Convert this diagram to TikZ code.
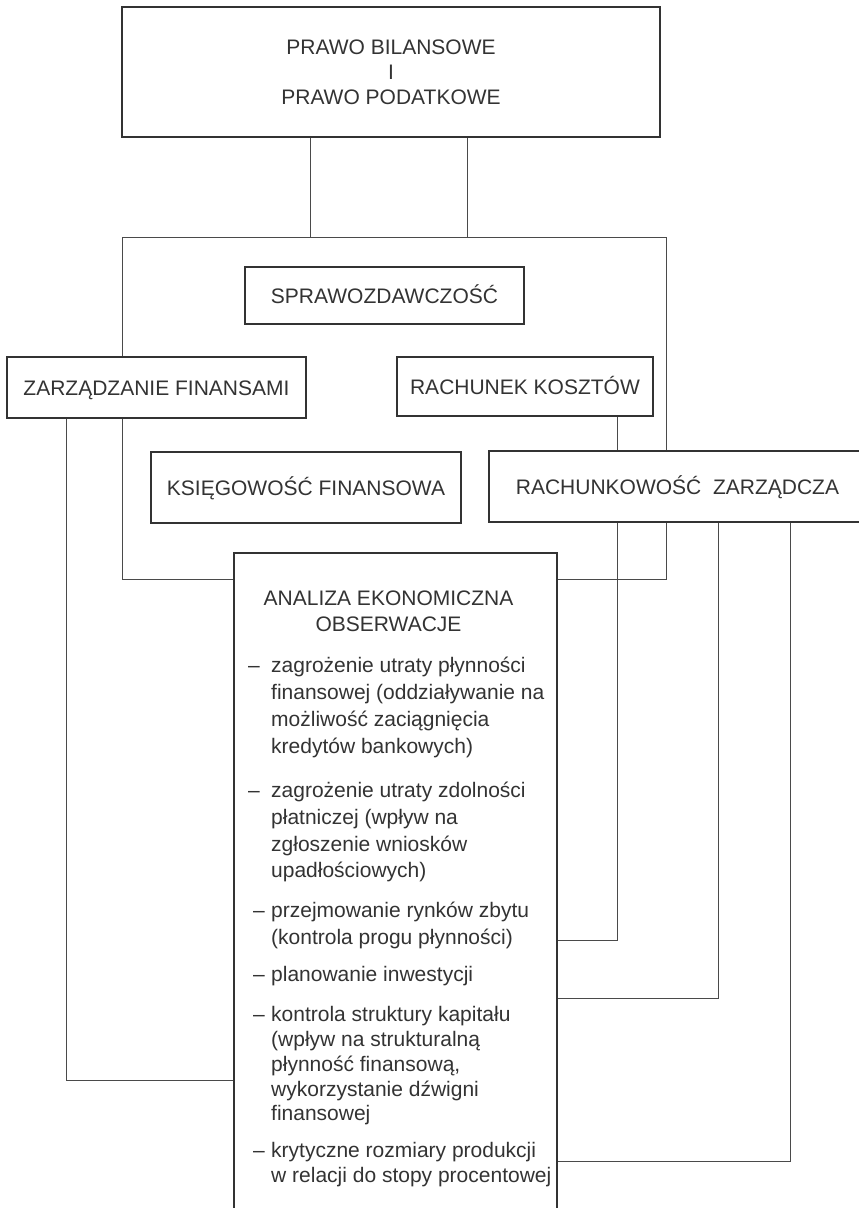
\documentclass[tikz,border=0pt]{standalone}
\usepackage{fontspec}
\setmainfont{Liberation Sans}
\definecolor{ink}{HTML}{333333}
\definecolor{wirecol}{HTML}{4A4A4A}
\newcommand{\diagfont}{\fontsize{21}{25}\selectfont}
\begin{document}
\begin{tikzpicture}[x=1pt,y=-1pt,
  box/.style={draw=ink, line width=1.6pt, fill=white, inner sep=0pt, font=\diagfont, text=ink, text height=15pt, text depth=0pt},
  wire/.style={draw=wirecol, line width=1pt},
  ln/.style={anchor=base west, inner sep=0pt, font=\diagfont, text=ink},
  hd/.style={anchor=base, inner sep=0pt, font=\diagfont, text=ink},
]
\clip (0,0) rectangle (859,1208);
\fill[white] (0,0) rectangle (859,1208);

% frame
\node[draw=wirecol, line width=1pt, minimum width=544pt, minimum height=342pt, inner sep=0pt] (frame) at (394,408) {};

% boxes
\node[draw=ink, line width=2pt, fill=white, inner sep=0pt, font=\diagfont, text=ink, align=center,
      minimum width=538pt, minimum height=130pt] (top) at (391,72) {PRAWO BILANSOWE\\I\\PRAWO PODATKOWE};
\node[box, minimum width=279pt, minimum height=57pt] (spr) at (384.5,295.5) {SPRAWOZDAWCZOŚĆ};
\node[box, minimum width=299pt, minimum height=61pt] (zf) at (156.5,387.5) {ZARZĄDZANIE FINANSAMI};
\node[box, minimum width=256pt, minimum height=59pt] (rk) at (525,386.5) {RACHUNEK KOSZTÓW};
\node[box, minimum width=310pt, minimum height=71pt] (kf) at (306,487.5) {KSIĘGOWOŚĆ FINANSOWA};
\node[box, minimum width=377pt, minimum height=71pt] (rz) at (677.5,486.5) {RACHUNKOWOŚĆ\ \ ZARZĄDCZA};
\node[box, minimum width=323pt, minimum height=667pt] (an) at (395.5,886.5) {};

% text of the analysis box
\node[hd] (h1) at (388.5,605) {ANALIZA EKONOMICZNA};
\node[hd] (h2) at (388.5,631) {OBSERWACJE};

\node[ln] (d1) at (248,672) {–};
\node[ln] (d2) at (248,797) {–};
\node[ln] (d3) at (253,917) {–};
\node[ln] (d4) at (253,981) {–};
\node[ln] (d5) at (253,1021) {–};
\node[ln] (d6) at (253,1157) {–};

\foreach \n/\yy/\t in {
  a1/672/{zagrożenie utraty płynności},
  a2/699/{finansowej (oddziaływanie na},
  a3/726/{możliwość zaciągnięcia},
  a4/753/{kredytów bankowych)},
  b1/797/{zagrożenie utraty zdolności},
  b2/824/{płatniczej (wpływ na},
  b3/851/{zgłoszenie wniosków},
  b4/877/{upadłościowych)},
  c1/917/{przejmowanie rynków zbytu},
  c2/944/{(kontrola progu płynności)},
  e1/981/{planowanie inwestycji},
  f1/1021/{kontrola struktury kapitału},
  f2/1046/{(wpływ na strukturalną},
  f3/1071/{płynność finansową,},
  f4/1096/{wykorzystanie dźwigni},
  f5/1120/{finansowej},
  g1/1157/{krytyczne rozmiary produkcji},
  g2/1182/{w relacji do stopy procentowej}}
  \node[ln] (\n) at (271,\yy) {\t};

% connectors
\coordinate (xa) at (310,0);
\coordinate (xb) at (467,0);
\draw[wire] (top.south -| xa) -- (frame.north -| xa);
\draw[wire] (top.south -| xb) -- (frame.north -| xb);

\coordinate (xc) at (66,0);
\coordinate (yc) at (0,1080);
\draw[wire] (zf.south -| xc) |- (an.west |- yc);

\coordinate (xd) at (617.5,0);
\coordinate (yd) at (0,940);
\draw[wire] (rk.south -| xd) -- (rz.north -| xd);
\draw[wire] (rz.south -| xd) |- (an.east |- yd);

\coordinate (xe) at (718,0);
\coordinate (ye) at (0,998);
\draw[wire] (rz.south -| xe) |- (an.east |- ye);

\coordinate (xf) at (790,0);
\coordinate (yf) at (0,1161);
\draw[wire] (rz.south -| xf) |- (an.east |- yf);
\end{tikzpicture}
\end{document}
